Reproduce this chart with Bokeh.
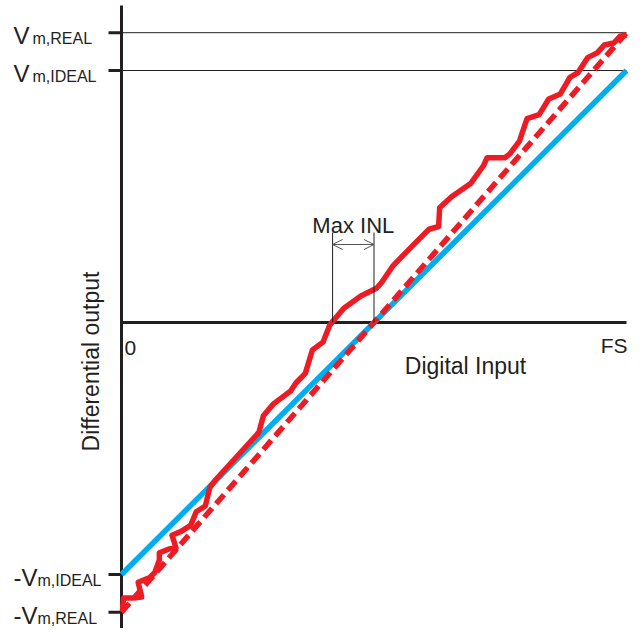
import math
from bokeh.plotting import figure
from bokeh.models import Arrow, OpenHead
from bokeh.core.properties import value
from bokeh.embed import file_html
from bokeh.resources import INLINE

# ---------------- data ----------------
# digital input normalised to full scale (0 = zero code, 1 = FS)
code = [0.002, 0.004, 0.023, 0.040, 0.033, 0.056, 0.066, 0.075, 0.075, 0.094,
        0.108, 0.100, 0.118, 0.137, 0.148, 0.166, 0.175, 0.187, 0.272, 0.281,
        0.301, 0.335, 0.345, 0.364, 0.378, 0.399, 0.412, 0.418, 0.441, 0.474,
        0.505, 0.514, 0.538, 0.576, 0.609, 0.628, 0.630, 0.653, 0.692, 0.717,
        0.724, 0.759, 0.769, 0.788, 0.803, 0.827, 0.846, 0.869, 0.888, 0.904,
        0.923, 0.942, 0.956, 0.975, 0.987, 1.000]
# real differential output, normalised to V_m,IDEAL
real_out = [-1.140, -1.093, -1.093, -1.089, -1.031, -1.012, -0.992, -0.942, -0.914, -0.899,
            -0.895, -0.844, -0.829, -0.805, -0.751, -0.728, -0.654, -0.623, -0.436, -0.370,
            -0.323, -0.272, -0.241, -0.202, -0.109, -0.078, -0.012, 0.004, 0.058, 0.105,
            0.136, 0.156, 0.226, 0.304, 0.370, 0.381, 0.455, 0.498, 0.553, 0.623,
            0.654, 0.654, 0.669, 0.720, 0.809, 0.825, 0.887, 0.907, 0.973, 0.992,
            1.051, 1.070, 1.101, 1.109, 1.136, 1.140]
vm_ideal = 1.0
vm_real = 1.15
ideal_x = [0.0, 1.0]
ideal_y = [-vm_ideal, vm_ideal]
fit_x = [0.0, 1.0]
fit_y = [-vm_real, vm_real]
inl_left = 0.418   # where the real curve crosses zero
inl_right = 0.5    # where the ideal curve crosses zero
tick_values = [vm_real, vm_ideal, -vm_ideal, -vm_real]
tick_main = ["V", "V", "-V", "-V"]
tick_sub = ["m,REAL", "m,IDEAL", "m,IDEAL", "m,REAL"]

# ---------------- figure ----------------
W = H = 628
ORIGIN_X, ORIGIN_Y = 121, 322     # canvas position of the origin
PXX, PXY = 505.0, 252.0           # pixels per unit
X0, X1 = -ORIGIN_X / PXX, (W - ORIGIN_X) / PXX
Y0, Y1 = -(H - ORIGIN_Y) / PXY, ORIGIN_Y / PXY


def dx(px):
    return px / PXX


def dy(px):
    return px / PXY


INK = "#231F20"
RED = "#ED1C24"
BLUE = "#00AEEF"
FONT = value("Liberation Sans")

p = figure(width=W, height=H, x_range=(X0, X1), y_range=(Y0, Y1),
           output_backend="svg", toolbar_location=None,
           x_axis_type=None, y_axis_type=None, min_border=0)
p.outline_line_color = None
p.background_fill_color = "white"
p.border_fill_color = "white"

# thin reference lines at +Vm
for v in tick_values[:2]:
    p.line([0, 1], [v, v], line_color=INK, line_width=1)

# ticks
p.segment(x0=[dx(-13)] * 4, y0=tick_values, x1=[0] * 4, y1=tick_values,
          line_color=INK, line_width=3)

# axes
p.line([0, 0], [Y0, dy(ORIGIN_Y - 5)], line_color=INK, line_width=3)
p.line([0, 1], [0, 0], line_color=INK, line_width=3)

# curves
p.line(ideal_x, ideal_y, line_color=BLUE, line_width=5.5)
p.line(fit_x, fit_y, line_color=RED, line_width=5.5, line_dash="12 6")
p.line(code, real_out, line_color=RED, line_width=5.5, line_join="round")

# Max INL annotation
p.segment(x0=[inl_left, inl_right], y0=[0, 0], x1=[inl_left, inl_right], y1=[dy(90), dy(90)],
          line_color=INK, line_width=1)
p.add_layout(Arrow(start=OpenHead(size=10, line_width=1, line_color="#555555"),
                   end=OpenHead(size=10, line_width=1, line_color="#555555"),
                   x_start=inl_left, y_start=dy(78), x_end=inl_right, y_end=dy(78),
                   line_color="#555555", line_width=1))
p.text(x=[(inl_left + inl_right) / 2], y=[dy(97)], text=["Max INL"], text_font=FONT,
       text_font_size="22px", text_align="center", text_baseline="alphabetic", text_color=INK)

# tick labels
main_x = [dx(-108)] * 4
main_y = [v - dy(3) for v in tick_values]
sub_x = [dx(-89), dx(-89), dx(-84), dx(-84)]
sub_y = [v - dy(6) for v in tick_values]
p.text(x=main_x, y=main_y, text=tick_main, text_font=FONT, text_font_size="24px",
       text_align="left", text_baseline="alphabetic", text_color=INK)
p.text(x=sub_x, y=sub_y, text=tick_sub, text_font=FONT, text_font_size="16px",
       text_align="left", text_baseline="alphabetic", text_color=INK)

# axis labels
p.text(x=[dx(3)], y=[-dy(25)], text=["0"], text_font=FONT, text_font_size="21px",
       text_align="left", text_baseline="alphabetic", text_color=INK)
p.text(x=[1 + dx(1)], y=[-dy(23)], text=["FS"], text_font=FONT, text_font_size="21px",
       text_align="right", text_baseline="alphabetic", text_color=INK)
p.text(x=[dx(344)], y=[-dy(43)], text=["Digital Input"], text_font=FONT, text_font_size="23px",
       text_align="center", text_baseline="alphabetic", text_color=INK)
p.text(x=[dx(-31)], y=[-dy(39)], text=["Differential output"], text_font=FONT,
       text_font_size="23px", text_align="center", text_baseline="middle",
       angle=math.pi / 2, text_color=INK)

open("out.html", "w").write(file_html(p, INLINE))
